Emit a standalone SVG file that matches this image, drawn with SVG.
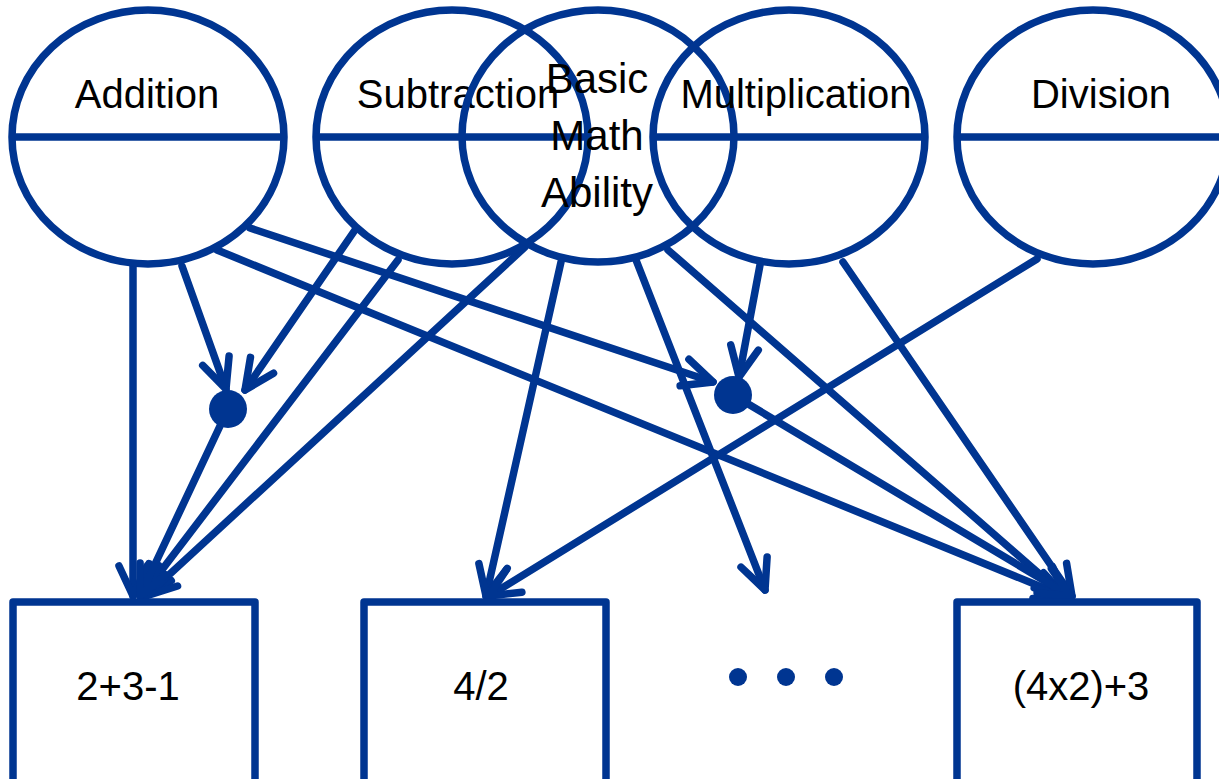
<svg xmlns="http://www.w3.org/2000/svg" width="1219" height="779" viewBox="0 0 1219 779">
  <style>
    .shape { fill: none; stroke: #003591; stroke-width: 7.5; stroke-linejoin: round; }
    .divider { stroke: #003591; stroke-width: 7.5; }
    .label { font-family: "Liberation Sans", Arial, sans-serif; font-size: 40px; fill: #000; text-anchor: middle; }
    .factor { font-family: "Liberation Sans", Arial, sans-serif; font-size: 42px; fill: #000; text-anchor: middle; }
    .item { font-family: "Liberation Sans", Arial, sans-serif; font-size: 40px; fill: #000; text-anchor: middle; }
    .edge { fill: none; stroke: #003591; stroke-width: 7.5; stroke-linecap: round; marker-end: url(#head); }
    .dot { fill: #003591; }
  </style>
  <defs>
    <marker id="head" markerUnits="userSpaceOnUse" markerWidth="60" markerHeight="60" refX="0" refY="0" viewBox="-40 -30 60 60" orient="auto" overflow="visible">
      <path d="M -30 -14 L 0 0 L -30 14" fill="none" stroke="#003591" stroke-width="7.5" stroke-linecap="round" stroke-linejoin="round"/>
    </marker>
  </defs>

  <rect width="1219" height="779" fill="#fff"/>

  <!-- connectors -->
  <g id="connectors">
    <line class="edge" x1="133" y1="264" x2="133" y2="596"/>
    <line class="edge" x1="182" y1="266" x2="226" y2="389"/>
    <line class="edge" x1="250" y1="228" x2="713" y2="382"/>
    <line class="edge" x1="217" y1="250" x2="1066" y2="597"/>
    <line class="edge" x1="355" y1="230" x2="245" y2="390"/>
    <line class="edge" x1="398" y1="260" x2="142" y2="596"/>
    <line class="edge" x1="525" y1="247" x2="146" y2="596"/>
    <line class="edge" x1="561" y1="262" x2="486" y2="596"/>
    <line class="edge" x1="636" y1="260" x2="765" y2="590"/>
    <line class="edge" x1="668" y1="250" x2="1066" y2="597"/>
    <line class="edge" x1="760" y1="265" x2="739" y2="377"/>
    <line class="edge" x1="843" y1="262" x2="1072" y2="596"/>
    <line class="edge" x1="1037" y1="259" x2="489" y2="596"/>
    <line class="edge" x1="228" y1="409" x2="140" y2="596"/>
    <line class="edge" x1="733" y1="395" x2="1070" y2="596"/>
  </g>

  <!-- junction points -->
  <g id="junction-1"><circle class="dot" cx="228" cy="409" r="19"/></g>
  <g id="junction-2"><circle class="dot" cx="733" cy="395" r="19"/></g>

  <!-- latent factors -->
  <g id="addition">
    <ellipse class="shape" cx="148" cy="137" rx="136" ry="127"/>
    <line class="divider" x1="12" y1="137" x2="284" y2="137"/>
    <text class="label" x="147" y="108">Addition</text>
  </g>
  <g id="subtraction">
    <ellipse class="shape" cx="452" cy="137" rx="136" ry="127"/>
    <line class="divider" x1="316" y1="137" x2="588" y2="137"/>
    <text class="label" x="458" y="108">Subtraction</text>
  </g>
  <g id="basic-math-ability">
    <ellipse class="shape" cx="598" cy="136" rx="136" ry="126"/>
    <text class="factor" x="597" y="93">Basic</text>
    <text class="factor" x="597" y="150">Math</text>
    <text class="factor" x="597" y="207">Ability</text>
  </g>
  <g id="multiplication">
    <ellipse class="shape" cx="789" cy="137" rx="136" ry="127"/>
    <line class="divider" x1="653" y1="137" x2="925" y2="137"/>
    <text class="label" x="796" y="108">Multiplication</text>
  </g>
  <g id="division">
    <ellipse class="shape" cx="1093" cy="137" rx="136" ry="127"/>
    <line class="divider" x1="957" y1="137" x2="1229" y2="137"/>
    <text class="label" x="1101" y="108">Division</text>
  </g>

  <!-- observed items -->
  <g id="item-1">
    <rect class="shape" x="13" y="602" width="242" height="200"/>
    <text class="item" x="128" y="700">2+3-1</text>
  </g>
  <g id="item-2">
    <rect class="shape" x="364" y="602" width="242" height="200"/>
    <text class="item" x="481" y="700">4/2</text>
  </g>
  <g id="ellipsis">
    <circle class="dot" cx="738" cy="677" r="9"/>
    <circle class="dot" cx="786" cy="677" r="9"/>
    <circle class="dot" cx="834" cy="677" r="9"/>
  </g>
  <g id="item-n">
    <rect class="shape" x="957" y="602" width="240" height="200"/>
    <text class="item" x="1081" y="700">(4x2)+3</text>
  </g>
</svg>
